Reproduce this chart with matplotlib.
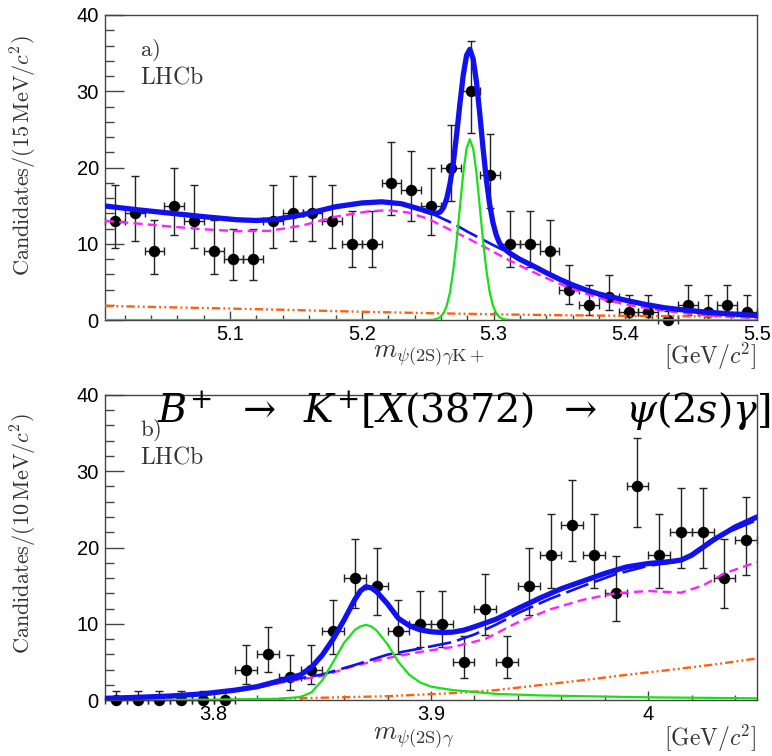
import numpy as np
import matplotlib
matplotlib.use("Agg")
import matplotlib.pyplot as plt
from matplotlib.ticker import MultipleLocator, FixedLocator, FixedFormatter

plt.rcParams['mathtext.fontset'] = 'cm'
plt.rcParams['lines.scale_dashes'] = False

# ---------------- panel a: m(psi(2S) gamma K+) ----------------
a_lo, a_width = 5.005, 0.015
a_counts = [13, 14, 9, 15, 13, 9, 8, 8, 13, 14, 14, 13, 10, 10, 18, 17, 15,
            20, 30, 19, 10, 10, 9, 4, 2, 3, 1, 1, 0, 2, 1, 2, 1]

a_tot_x = [5.005, 5.03, 5.055, 5.08, 5.105, 5.12, 5.135, 5.155, 5.18, 5.2, 5.215,
           5.23, 5.245, 5.252, 5.257, 5.2595, 5.262, 5.2645, 5.267, 5.2695, 5.272,
           5.2745, 5.277, 5.2795, 5.282, 5.2845, 5.287, 5.2895, 5.292, 5.2945,
           5.297, 5.2995, 5.302, 5.3045, 5.307, 5.312, 5.32, 5.33, 5.34, 5.35,
           5.36, 5.37, 5.38, 5.39, 5.4, 5.415, 5.43, 5.445, 5.46, 5.48, 5.5]
a_tot_y = [14.95, 14.45, 14.0, 13.55, 13.15, 13.05, 13.2, 13.8, 14.85, 15.35, 15.5,
           15.25, 14.5, 14.1, 13.97, 14.17, 14.75, 15.95, 17.95, 20.7, 24.4,
           28.45, 32.15, 34.7, 35.5, 34.25, 31.25, 27.1, 22.55, 18.45,
           15.2, 12.8, 11.15, 10.1, 9.5, 8.8, 7.95, 7.1, 6.2, 5.35,
           4.6, 3.95, 3.4, 3.0, 2.6, 2.05, 1.6, 1.3, 1.05, 0.8, 0.6]

a_bkg_x = [5.005, 5.03, 5.055, 5.08, 5.105, 5.12, 5.135, 5.155, 5.18, 5.2, 5.215,
           5.23, 5.245, 5.252, 5.26, 5.27, 5.28, 5.29, 5.3, 5.31, 5.32, 5.33, 5.34,
           5.35, 5.36, 5.37, 5.38, 5.39, 5.4, 5.415, 5.43, 5.445, 5.46, 5.48, 5.5]
a_bkg_y = [14.95, 14.45, 14.0, 13.55, 13.15, 13.05, 13.2, 13.8, 14.85, 15.35, 15.5,
           15.25, 14.5, 14.05, 13.4, 12.6, 11.6, 10.7, 9.8, 8.95, 7.95, 7.1, 6.2,
           5.35, 4.6, 3.95, 3.4, 3.0, 2.6, 2.05, 1.6, 1.3, 1.05, 0.8, 0.6]

a_part_x = [5.005, 5.03, 5.055, 5.08, 5.105, 5.13, 5.155, 5.18, 5.205, 5.22, 5.235,
            5.25, 5.265, 5.28, 5.295, 5.31, 5.325, 5.34, 5.355, 5.37, 5.385, 5.4,
            5.42, 5.44, 5.46, 5.48, 5.5]
a_part_y = [13.0, 12.65, 12.25, 11.9, 11.65, 11.7, 12.4, 13.55, 14.25, 14.4, 14.1,
            13.3, 12.0, 10.75, 9.4, 8.0, 6.7, 5.5, 4.4, 3.45, 2.65, 2.05,
            1.45, 1.0, 0.65, 0.42, 0.28]

a_comb_x = [5.005, 5.05, 5.1, 5.15, 5.2, 5.25, 5.3, 5.35, 5.4, 5.45, 5.5]
a_comb_y = [1.85, 1.68, 1.5, 1.3, 1.08, 0.9, 0.75, 0.63, 0.55, 0.48, 0.44]

a_sig_x = [5.005, 5.25, 5.254, 5.257, 5.2595, 5.262, 5.2645, 5.267, 5.2695, 5.272,
           5.2745, 5.277, 5.2795, 5.282, 5.2845, 5.287, 5.2895, 5.292, 5.2945,
           5.297, 5.2995, 5.302, 5.3045, 5.307, 5.31, 5.315, 5.5]
a_sig_y = [0.0, 0.0, 0.03, 0.14, 0.37, 0.89, 1.9, 3.7, 6.6, 10.4,
           14.9, 19.3, 22.5, 23.7, 22.5, 19.3, 14.9, 10.4, 6.6,
           3.7, 1.9, 0.89, 0.37, 0.14, 0.03, 0.0, 0.0]

# ---------------- panel b: m(psi(2S) gamma) ----------------
b_lo, b_width = 3.75, 0.010
b_counts = [0, 0, 0, 0, 0, 0, 4, 6, 3, 4, 9, 16, 15, 9, 10, 10, 5, 12, 5, 15,
            19, 23, 19, 14, 28, 19, 22, 22, 16, 21]

b_tot_x = [3.75, 3.765, 3.78, 3.795, 3.81, 3.82, 3.83, 3.84, 3.845, 3.85, 3.855,
           3.86, 3.865, 3.8675, 3.87, 3.8725, 3.875, 3.88, 3.885, 3.89, 3.895,
           3.9, 3.905, 3.91, 3.915, 3.92, 3.93, 3.94, 3.95, 3.96, 3.97, 3.98,
           3.99, 4.0, 4.01, 4.015, 4.02, 4.03, 4.04, 4.05]
b_tot_y = [0.22, 0.35, 0.52, 0.8, 1.3, 1.75, 2.5, 3.3, 4.3, 5.9, 8.0,
           10.5, 13.2, 14.3, 14.85, 14.7, 14.2, 12.6, 10.7, 9.75, 9.2,
           8.95, 8.85, 8.9, 9.15, 9.6, 10.6, 12.0, 13.35, 14.6, 15.6, 16.6,
           17.45, 17.9, 18.15, 18.35, 19.0, 21.0, 22.7, 24.0]

b_bkg_x = [3.75, 3.78, 3.8, 3.82, 3.835, 3.85, 3.865, 3.88, 3.895, 3.91, 3.92,
           3.93, 3.94, 3.955, 3.97, 3.985, 4.0, 4.015, 4.03, 4.05]
b_bkg_y = [0.2, 0.45, 0.85, 1.65, 2.6, 3.35, 4.6, 5.95, 6.75, 7.6, 8.6,
           9.9, 11.4, 13.3, 14.95, 16.5, 17.6, 18.2, 21.2, 23.6]

b_part_x = [3.75, 3.78, 3.8, 3.82, 3.835, 3.85, 3.865, 3.88, 3.895, 3.91, 3.925,
            3.94, 3.955, 3.97, 3.985, 4.0, 4.015, 4.025, 4.035, 4.05]
b_part_y = [0.2, 0.45, 0.85, 1.6, 2.5, 3.15, 4.5, 5.5, 6.3, 6.95, 8.0,
            10.2, 11.9, 13.15, 14.0, 14.3, 14.07, 15.0, 16.6, 18.1]

b_comb_x = [3.8, 3.82, 3.85, 3.88, 3.91, 3.93, 3.95, 3.97, 3.99, 4.01, 4.03, 4.05]
b_comb_y = [0.0, 0.1, 0.3, 0.5, 0.9, 1.3, 1.95, 2.6, 3.3, 3.95, 4.65, 5.45]

b_sig_x = [3.75, 3.8, 3.83, 3.84, 3.845, 3.85, 3.855, 3.86, 3.865, 3.8675, 3.87,
           3.8725, 3.875, 3.88, 3.885, 3.89, 3.895, 3.9, 3.91, 3.92, 3.93, 3.95,
           3.97, 4.0, 4.05]
b_sig_y = [0.02, 0.05, 0.15, 0.4, 1.0, 2.6, 5.0, 7.5, 9.2, 9.65, 9.85,
           9.65, 9.1, 7.3, 5.0, 3.3, 2.3, 1.75, 1.3, 1.05, 0.8, 0.6,
           0.5, 0.35, 0.22]

a_xticks = [5.1, 5.2, 5.3, 5.4, 5.5]
a_xticklabels = ["5.1", "5.2", "5.3", "5.4", "5.5"]
b_xticks = [3.8, 3.9, 4.0]
b_xticklabels = ["3.8", "3.9", "4"]
yticks = [0, 10, 20, 30, 40]


def poisson_interval(n):
    n = np.asarray(n, dtype=float)
    lo = np.where(n > 0, n * (1 - 1 / (9 * np.maximum(n, 1)) - 1 / (3 * np.sqrt(np.maximum(n, 1)))) ** 3, 0.0)
    hi = (n + 1) * (1 - 1 / (9 * (n + 1)) + 1 / (3 * np.sqrt(n + 1))) ** 3
    hi = np.where(n > 0, hi, 1.15)
    return n - lo, hi - n


W, H = 772, 756
fig = plt.figure(figsize=(W / 100, H / 100), dpi=100)


def fx(px):
    return px / W


def fy(py):
    return 1 - py / H


BLUE = '#1010f0'
MAG = '#ff20ff'
ORG = '#ff6010'
GRN = '#18e018'
SPINE = '#444444'


def draw_panel(ax, lo, width, counts, tot, bkg, part, comb, sig, xlim, xticks, xlabels, minor):
    counts = np.asarray(counts)
    centers = lo + width * (np.arange(len(counts)) + 0.5)
    el, eh = poisson_interval(counts)
    ax.errorbar(centers, counts, yerr=[el, eh], xerr=width / 2, fmt='o', color='black',
                ecolor='#222222', elinewidth=1.0, capsize=2.6, capthick=1.0,
                markersize=7.2, zorder=2, clip_on=False)
    ax.plot(comb[0], comb[1], color=ORG, lw=1.7, dashes=(6, 2.2, 1.4, 2.2, 1.4, 2.2), zorder=3)
    ax.plot(part[0], part[1], color=MAG, lw=1.7, dashes=(6.5, 3.8), zorder=4)
    ax.plot(bkg[0], bkg[1], color=BLUE, lw=1.9, dashes=(17, 4.5), zorder=5)
    ax.plot(sig[0], sig[1], color=GRN, lw=1.6, zorder=6)
    ax.plot(tot[0], tot[1], color=BLUE, lw=3.8, zorder=7, solid_capstyle='round')
    ax.set_xlim(*xlim)
    ax.set_ylim(0, 40)
    ax.xaxis.set_major_locator(FixedLocator(xticks))
    ax.xaxis.set_major_formatter(FixedFormatter(xlabels))
    ax.xaxis.set_minor_locator(MultipleLocator(minor))
    ax.yaxis.set_major_locator(FixedLocator(yticks))
    ax.yaxis.set_minor_locator(MultipleLocator(2))
    ax.tick_params(which='both', direction='in', top=False, right=False, color=SPINE, width=1.0)
    ax.tick_params(axis='y', which='major', length=13.5, pad=4.5)
    ax.tick_params(axis='y', which='minor', length=6.7)
    ax.tick_params(axis='x', which='major', length=6.7, pad=3.5)
    ax.tick_params(axis='x', which='minor', length=3.6)
    for lab in ax.get_xticklabels() + ax.get_yticklabels():
        lab.set_fontfamily('Liberation Sans')
        lab.set_fontsize(14.5)
    for s in ax.spines.values():
        s.set_color(SPINE)
        s.set_linewidth(1.0)


ax1 = fig.add_axes([fx(105), fy(320), fx(757) - fx(105), fy(15) - fy(320)])
draw_panel(ax1, a_lo, a_width, a_counts, (a_tot_x, a_tot_y), (a_bkg_x, a_bkg_y),
           (a_part_x, a_part_y), (a_comb_x, a_comb_y), (a_sig_x, a_sig_y),
           (5.005, 5.5), a_xticks, a_xticklabels, 0.02)

ax2 = fig.add_axes([fx(105), fy(700), fx(757) - fx(105), fy(395) - fy(700)])
draw_panel(ax2, b_lo, b_width, b_counts, (b_tot_x, b_tot_y), (b_bkg_x, b_bkg_y),
           (b_part_x, b_part_y), (b_comb_x, b_comb_y), (b_sig_x, b_sig_y),
           (3.75, 4.05), b_xticks, b_xticklabels, 0.02)

# axis titles
fig.text(fx(24), fy(35), r"$\mathrm{Candidates}/(15\,\mathrm{MeV}/c^2)$", rotation=90,
         ha='center', va='top', fontsize=16, color='#333333')
fig.text(fx(24), fy(413), r"$\mathrm{Candidates}/(10\,\mathrm{MeV}/c^2)$", rotation=90,
         ha='center', va='top', fontsize=16, color='#333333')

fig.text(fx(373), fy(356), r"$m_{\mathrm{\psi(2S)}\gamma\mathrm{K+}}$", ha='left', va='center',
         fontsize=19, color='#333333')
fig.text(fx(373), fy(738), r"$m_{\mathrm{\psi(2S)}\gamma}$", ha='left', va='center',
         fontsize=19, color='#333333')
fig.text(fx(756), fy(356), r"$[\mathrm{GeV}/c^2]$", ha='right', va='center', fontsize=17, color='#333333')
fig.text(fx(756), fy(738), r"$[\mathrm{GeV}/c^2]$", ha='right', va='center', fontsize=17, color='#333333')

# panel labels
fig.text(fx(140), fy(50), r"$\mathrm{a)}$", ha='left', va='center', fontsize=16.5, color='#333333')
fig.text(fx(140), fy(77), r"$\mathrm{LHCb}$", ha='left', va='center', fontsize=17, color='#333333')
fig.text(fx(140), fy(430), r"$\mathrm{b)}$", ha='left', va='center', fontsize=16.5, color='#333333')
fig.text(fx(140), fy(457), r"$\mathrm{LHCb}$", ha='left', va='center', fontsize=17, color='#333333')

# overlaid decay title
fig.text(fx(157), fy(411), r"$B^{+}\;\;\rightarrow\;\;K^{+}[X(3872)\;\;\rightarrow\;\;\psi(2s)\gamma]$",
         ha='left', va='center', fontsize=28.5, math_fontfamily='dejavuserif', color='black')

fig.savefig("out.png", dpi=100)
